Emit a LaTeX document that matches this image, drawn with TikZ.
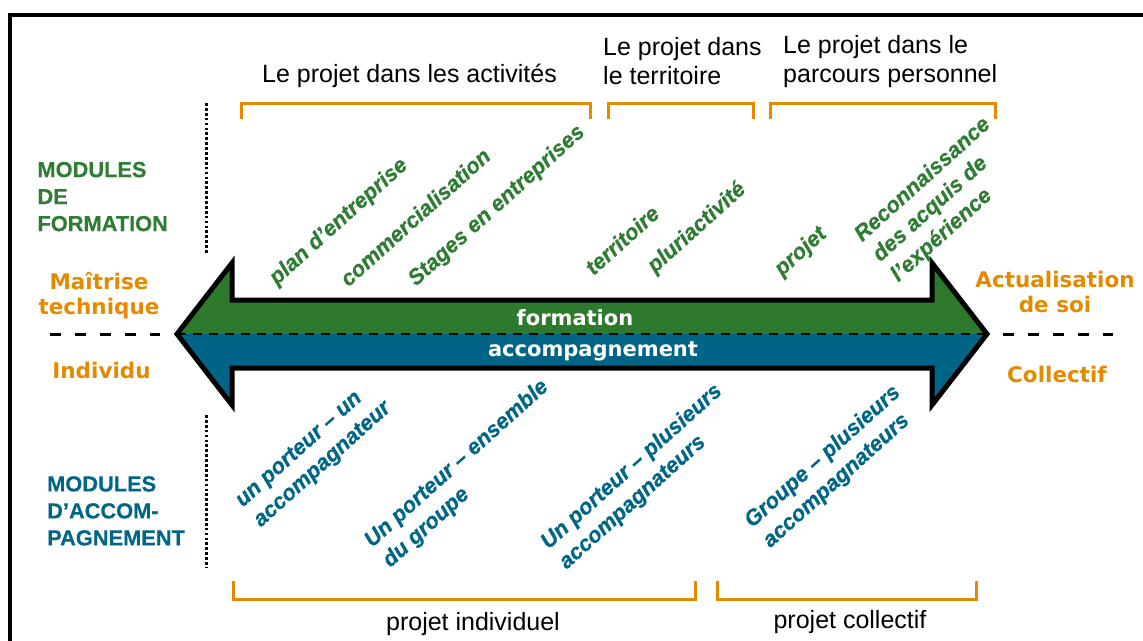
\documentclass[tikz,border=0pt]{standalone}
\usepackage{fontspec}
\setmainfont{Liberation Sans}
\newfontfamily\verd{DejaVu Sans}
\newfontfamily\rotfont[BoldItalicFeatures={FakeBold=0.7}, BoldFeatures={FakeBold=0.4}]{Liberation Sans}
\definecolor{fgreen}{RGB}{46,125,50}
\definecolor{agreen}{RGB}{45,122,45}
\definecolor{fblue}{RGB}{0,102,136}
\definecolor{ablue}{RGB}{0,100,135}
\definecolor{orng}{RGB}{227,138,0}
\begin{document}
\begin{tikzpicture}[x=1pt,y=-1pt,
  toplab/.style={font=\fontsize{25}{29}\selectfont, align=left, inner sep=0pt, anchor=north west},
  botlab/.style={font=\fontsize{25}{29}\selectfont, inner sep=0pt, anchor=base},
  pole/.style={text=orng, font=\verd\bfseries\fontsize{21.5}{25}\selectfont, align=center, inner sep=0pt},
  modf/.style={font=\rotfont\bfseries\fontsize{21.8}{27}\selectfont, align=left, inner sep=0pt, anchor=north west},
  rotg/.style={text=fgreen, font=\rotfont\bfseries\itshape\fontsize{22}{27}\selectfont, align=left, inner sep=0pt, rotate=42},
  rotb/.style={rotg, text=fblue},
  brk/.style={draw=orng, line width=3pt, line join=miter},
  dots/.style={line width=3pt, dash pattern=on 2.7pt off 2.2pt},
  band/.style={text=white, font=\verd\bfseries\fontsize{21}{25}\selectfont, inner sep=0pt}
]
\useasboundingbox (0,0) rectangle (1143,640);
% frame
\draw[line width=4pt, line join=miter] (10.3,650) -- (10.3,14.7) -- (1150,14.7);

% dotted separators
\draw[dots] (206,103) -- (206,253);
\draw[dots] (206,415) -- (206,567);

% arrow
\coordinate (tl) at (177,334);
\coordinate (tr) at (987,334);
\fill[agreen] (tl) -- (232,263) -- (232,300) -- (932,300) -- (932,263) -- (tr) -- cycle;
\fill[ablue] (tl) -- (232,405) -- (232,368) -- (932,368) -- (932,405) -- (tr) -- cycle;
\draw[line width=2pt, dash pattern=on 9pt off 7pt] (tl) -- (tr);
\draw[line width=5pt, line join=miter] (tl) -- (232,263) -- (232,300) -- (932,300) -- (932,263) -- (tr)
  -- (932,405) -- (932,368) -- (232,368) -- (232,405) -- cycle;
\coordinate (dl1) at (50,334);
\coordinate (dl2) at (160,334);
\coordinate (dr1) at (1003,334);
\coordinate (dr2) at (1113,334);
\draw[line width=3pt, dash pattern=on 10.5pt off 14.5pt] (dl1) -- (dl2);
\draw[line width=3pt, dash pattern=on 10.5pt off 14.5pt] (dr1) -- (dr2);

\node[band] (fm) at (575,318) {formation};
\node[band] (ac) at (593,351) {accompagnement};

% top brackets
\draw[brk] (241,119) -- (241,103.5) -- (590,103.5) -- (590,119);
\draw[brk] (608,119) -- (608,103.5) -- (753,103.5) -- (753,119);
\draw[brk] (770,119) -- (770,103.5) -- (995,103.5) -- (995,119);
% bottom brackets
\draw[brk] (233,581) -- (233,599.5) -- (695,599.5) -- (695,581);
\draw[brk] (717,581) -- (717,599.5) -- (976,599.5) -- (976,581);

% top labels
\node[toplab] (t1) at (262,64) {Le projet dans les activités};
\node[toplab] (t2) at (603,37) {Le projet dans\\le territoire};
\node[toplab] (t3) at (783,35) {Le projet dans le\\parcours personnel};

% bottom labels
\node[botlab] (p1) at (473,630) {projet individuel};
\node[botlab] (p2) at (850,628) {projet collectif};

% module labels
\node[modf, text=fgreen] (mf) at (37.3,161.7) {MODULES\\DE\\FORMATION};
\node[modf, text=fblue] (ma) at (47,476) {MODULES\\D’ACCOM-\\PAGNEMENT};

% poles
\node[pole] (mt) at (99,296) {Maîtrise\\technique};
\node[pole, anchor=base] (iv) at (101.5,378) {Individu};
\node[pole] (as) at (1055,292) {Actualisation\\de soi};
\node[pole, anchor=base] (cl) at (1057,382) {Collectif};

% rotated green
\node[rotg] (pe) at (339,222) {plan d’entreprise};
\node[rotg] (co) at (415,217) {commercialisation};
\node[rotg] (se) at (497,206) {Stages en entreprises};
\node[rotg] (te) at (622,240) {territoire};
\node[rotg] (pl) at (697,228) {pluriactivité};
\node[rotg] (pr) at (801,252) {projet};
\node[rotg] (re) at (941,200) {Reconnaissance\\des acquis de\\l’expérience};

% rotated blue
\node[rotb] (b1) at (314,455) {un porteur – un\\accompagnateur};
\node[rotb] (b2) at (466,474) {Un porteur – ensemble\\du groupe};
\node[rotb] (b3) at (641,477) {Un porteur – plusieurs\\accompagnateurs};
\node[rotb] (b4) at (832,467) {Groupe – plusieurs\\accompagnateurs};
\end{tikzpicture}
\end{document}
